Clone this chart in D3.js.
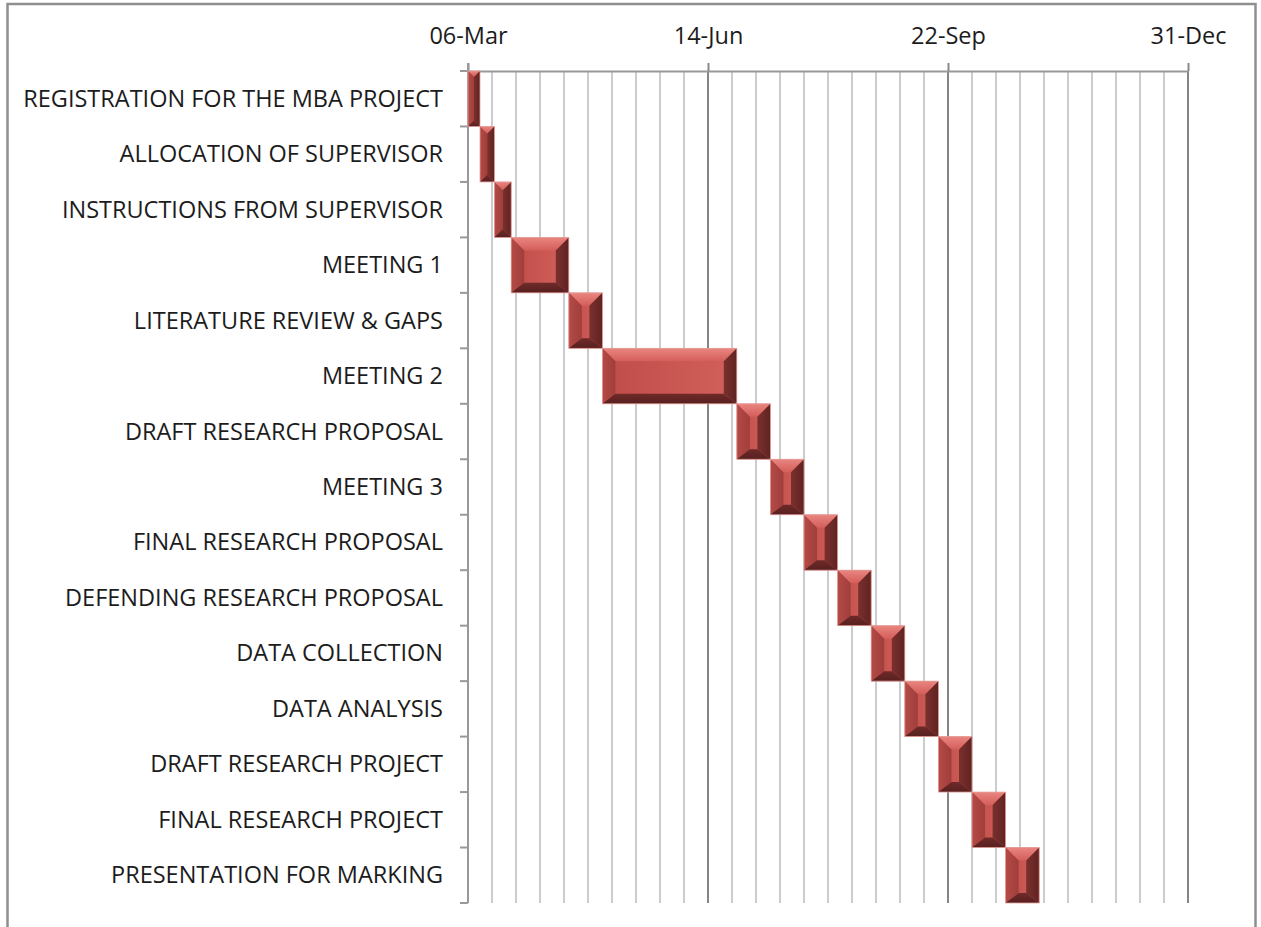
<!DOCTYPE html>
<html>
<head>
<meta charset="utf-8">
<script src="https://cdn.jsdelivr.net/npm/d3@7"></script>
<style>
  body { margin: 0; background: #fff; }
  svg text { font-family: "Open Sans", sans-serif; fill: #1c1c1c; }
</style>
</head>
<body>
<svg id="chart" width="1261" height="927"></svg>
<script>
// tasks, their start dates and how many days each one runs
var tasks = ["REGISTRATION FOR THE MBA PROJECT", "ALLOCATION OF SUPERVISOR", "INSTRUCTIONS FROM SUPERVISOR",
             "MEETING 1", "LITERATURE REVIEW & GAPS", "MEETING 2", "DRAFT RESEARCH PROPOSAL", "MEETING 3",
             "FINAL RESEARCH PROPOSAL", "DEFENDING RESEARCH PROPOSAL", "DATA COLLECTION", "DATA ANALYSIS",
             "DRAFT RESEARCH PROJECT", "FINAL RESEARCH PROJECT", "PRESENTATION FOR MARKING"];
var startDates = ["2013-03-06", "2013-03-11", "2013-03-17", "2013-03-24", "2013-04-17", "2013-05-01",
                  "2013-06-26", "2013-07-10", "2013-07-24", "2013-08-07", "2013-08-21", "2013-09-04",
                  "2013-09-18", "2013-10-02", "2013-10-16"];
var durations = [5, 6, 7, 24, 14, 56, 14, 14, 14, 14, 14, 14, 14, 14, 14];
var tickDates = ["2013-03-06", "2013-06-14", "2013-09-22", "2013-12-31"];

var parse = d3.timeParse("%Y-%m-%d");
var day = 24 * 3600 * 1000;

var svg = d3.select("#chart");
var plotLeft = 468, plotRight = 1188, plotTop = 71, plotBottom = 903;

var xScale = d3.scaleTime()
               .domain([parse(tickDates[0]), parse(tickDates[3])])
               .range([plotLeft, plotRight]);
var yScale = d3.scaleBand().domain(tasks).range([plotTop, plotBottom]).padding(0);

// gradients for the bevel faces
var defs = svg.append("defs");
function grad(id, x1, y1, x2, y2, c1, c2) {
  var g = defs.append("linearGradient").attr("id", id)
              .attr("x1", x1).attr("y1", y1).attr("x2", x2).attr("y2", y2);
  g.append("stop").attr("offset", "0%").attr("stop-color", c1);
  g.append("stop").attr("offset", "100%").attr("stop-color", c2);
}
grad("gTop", 0, 0, 0, 1, "#e98580", "#d45e5a");
grad("gLeft", 0, 0, 1, 0, "#b54a46", "#9f3e3b");
grad("gRight", 0, 0, 1, 0, "#7a302d", "#5f2321");
grad("gBottom", 0, 0, 0, 1, "#6e2a28", "#572020");
grad("gMid", 0, 0, 1, 0, "#bf4c48", "#d2605b");

// outer frame
svg.append("rect").attr("x", 7.5).attr("y", 4).attr("width", 1248).attr("height", 1000)
   .attr("fill", "none").attr("stroke", "#8f8f8f").attr("stroke-width", 2.5);

// minor gridlines every 10 days
var start = parse(tickDates[0]);
var minor = d3.range(1, 30).filter(function(i) { return i % 10 != 0; })
              .map(function(i) { return new Date(start.getTime() + i * 10 * day); });
svg.append("g").selectAll("line").data(minor).join("line")
   .attr("x1", function(d) { return xScale(d); }).attr("x2", function(d) { return xScale(d); })
   .attr("y1", plotTop).attr("y2", plotBottom)
   .attr("stroke", "#cccccc").attr("stroke-width", 2);

// major gridlines
svg.append("g").selectAll("line").data(tickDates.slice(1)).join("line")
   .attr("x1", function(d) { return xScale(parse(d)); }).attr("x2", function(d) { return xScale(parse(d)); })
   .attr("y1", plotTop).attr("y2", plotBottom)
   .attr("stroke", "#858585").attr("stroke-width", 2);

// date axis on top
var xAxis = d3.axisTop(xScale).tickValues(tickDates.map(parse))
              .tickFormat(d3.timeFormat("%d-%b")).tickSize(8).tickPadding(19).tickSizeOuter(0);
var gx = svg.append("g").attr("transform", "translate(0," + plotTop + ")").call(xAxis);
gx.select(".domain").attr("stroke", "#999").attr("stroke-width", 2);
gx.selectAll(".tick line").attr("stroke", "#888").attr("stroke-width", 2);
gx.selectAll("text").attr("font-size", 23.5).attr("font-family", "Open Sans").attr("fill", "#1c1c1c");

// category axis, ticks at band edges
svg.append("line").attr("x1", plotLeft).attr("x2", plotLeft).attr("y1", plotTop - 8).attr("y2", plotBottom)
   .attr("stroke", "#999").attr("stroke-width", 2);
var edges = tasks.map(function(t) { return yScale(t); }).concat([plotBottom]);
svg.append("g").selectAll("line").data(edges).join("line")
   .attr("x1", plotLeft - 8).attr("x2", plotLeft).attr("y1", function(d) { return d; }).attr("y2", function(d) { return d; })
   .attr("stroke", "#999").attr("stroke-width", 2);
svg.append("g").selectAll("text").data(tasks).join("text")
   .attr("x", plotLeft - 25).attr("y", function(d) { return yScale(d) + yScale.bandwidth() / 2 + 8; })
   .attr("text-anchor", "end").attr("font-size", 23.5).text(function(d) { return d; });

// bevelled bars
var bars = svg.append("g");
tasks.forEach(function(t, i) {
  var s = parse(startDates[i]);
  var x0 = xScale(s), x1 = xScale(new Date(s.getTime() + durations[i] * day));
  var y0 = yScale(t), y1 = y0 + yScale.bandwidth();
  var w = x1 - x0;
  var b = Math.min(13, w / 2), bb = Math.min(10, w / 2);
  var ix0 = x0 + b, ix1 = x1 - b, iy0 = y0 + b, iy1 = y1 - bb;
  var g = bars.append("g");
  g.append("rect").attr("x", x0).attr("y", y0).attr("width", w).attr("height", y1 - y0).attr("fill", "url(#gMid)");
  g.append("polygon").attr("points", [[x0, y0], [x1, y0], [ix1, iy0], [ix0, iy0]].join(" ")).attr("fill", "url(#gTop)");
  g.append("polygon").attr("points", [[x0, y0], [ix0, iy0], [ix0, iy1], [x0, y1]].join(" ")).attr("fill", "url(#gLeft)");
  g.append("polygon").attr("points", [[x1, y0], [ix1, iy0], [ix1, iy1], [x1, y1]].join(" ")).attr("fill", "url(#gRight)");
  g.append("polygon").attr("points", [[x0, y1], [x1, y1], [ix1, iy1], [ix0, iy1]].join(" ")).attr("fill", "url(#gBottom)");
  g.append("rect").attr("x", x0).attr("y", y0).attr("width", w).attr("height", y1 - y0)
   .attr("fill", "none").attr("stroke", "#e4a09c").attr("stroke-width", 0.8);
});
</script>
</body>
</html>
